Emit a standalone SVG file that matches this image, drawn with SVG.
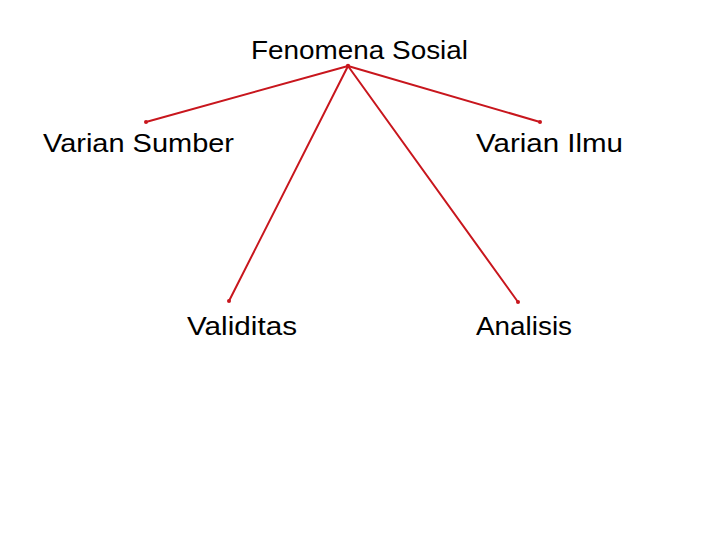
<svg xmlns="http://www.w3.org/2000/svg" width="720" height="540" viewBox="0 0 720 540">
<defs>
<style>
text{font-family:"Liberation Sans",Arial,sans-serif;font-size:26px;fill:#000}
.c{stroke:#c8161d;stroke-width:2;fill:none;stroke-linecap:round}
.d{fill:#c8161d}
</style>
</defs>
<rect width="720" height="540" fill="#fff"/>
<g id="connectors">
<line class="c" x1="348" y1="66" x2="146" y2="122"/>
<line class="c" x1="348" y1="66" x2="540" y2="122"/>
<line class="c" x1="348" y1="66" x2="229" y2="301"/>
<line class="c" x1="348" y1="66" x2="518" y2="302"/>
<circle class="d" cx="348" cy="66" r="2.2"/>
<circle class="d" cx="146" cy="122" r="2"/>
<circle class="d" cx="540" cy="122" r="2"/>
<circle class="d" cx="229" cy="301" r="2"/>
<circle class="d" cx="518" cy="302" r="2"/>
</g>
<g id="fenomena"><text x="251" y="59" textLength="217" lengthAdjust="spacingAndGlyphs">Fenomena Sosial</text></g>
<g id="varian-sumber"><text x="43" y="152" textLength="191" lengthAdjust="spacingAndGlyphs">Varian Sumber</text></g>
<g id="varian-ilmu"><text x="476" y="152" textLength="147" lengthAdjust="spacingAndGlyphs">Varian Ilmu</text></g>
<g id="validitas"><text x="187" y="335" textLength="110" lengthAdjust="spacingAndGlyphs">Validitas</text></g>
<g id="analisis"><text x="476" y="335" textLength="96" lengthAdjust="spacingAndGlyphs">Analisis</text></g>
</svg>
